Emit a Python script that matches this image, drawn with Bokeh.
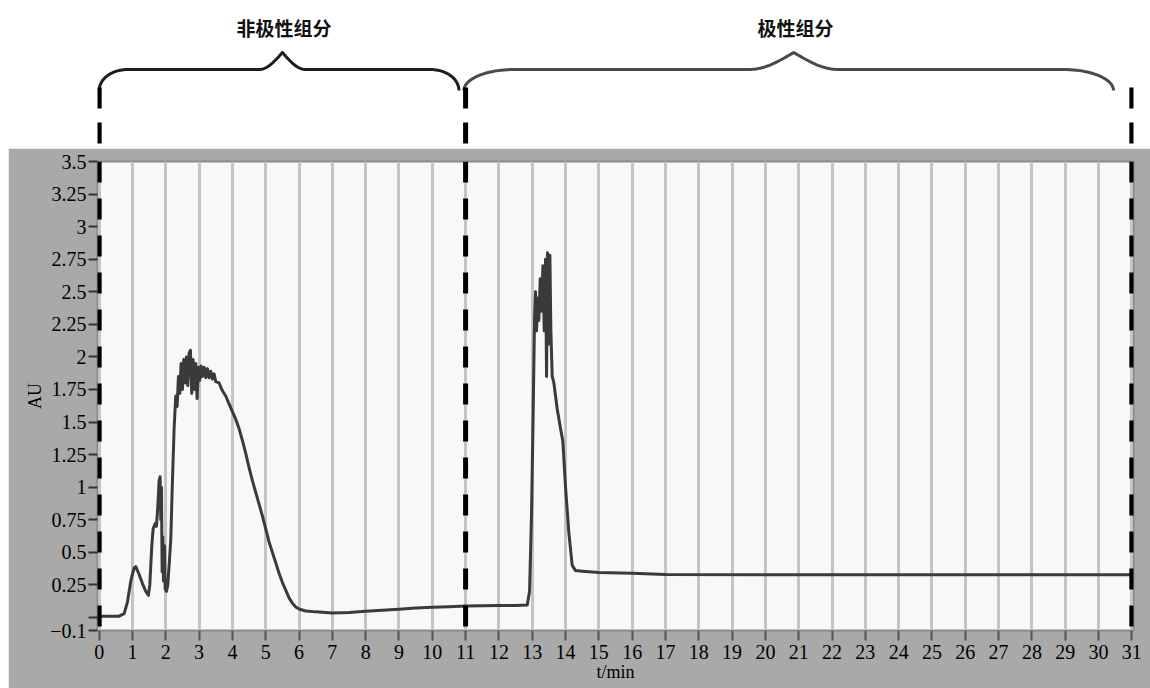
import math
from bokeh.plotting import figure
from bokeh.models import Range1d, FixedTicker, Span
from bokeh.layouts import column
from bokeh.embed import file_html
from bokeh.resources import INLINE
from bokeh.core.properties import value

# ---------------- data ----------------
time_min = [0, 0.3, 0.6, 0.75, 0.85, 0.95, 1.05, 1.1, 1.2, 1.3, 1.4, 1.48, 1.52, 1.58, 1.62,
            1.68, 1.72, 1.76, 1.8, 1.83, 1.85, 1.87, 1.89, 1.91, 1.93, 1.96, 1.98, 2.02, 2.06,
            2.1, 2.15, 2.2, 2.25, 2.3, 2.34, 2.38, 2.42, 2.46, 2.5, 2.54, 2.58, 2.62, 2.66,
            2.7, 2.74, 2.78, 2.82, 2.86, 2.9, 2.94, 2.98, 3.02, 3.06, 3.1, 3.15, 3.2, 3.25,
            3.3, 3.35, 3.4, 3.45, 3.5, 3.6, 3.7, 3.8, 3.9, 4.0, 4.1, 4.2, 4.3, 4.4, 4.5, 4.6,
            4.7, 4.8, 4.9, 5.0, 5.1, 5.2, 5.3, 5.4, 5.5, 5.6, 5.7, 5.8, 5.9, 6.0, 6.2, 6.5,
            7.0, 7.5, 8.0, 8.5, 9.0, 9.5, 10.0, 10.5, 11.0, 11.5, 12.0, 12.5, 12.85, 12.92,
            12.98, 13.03, 13.07, 13.1, 13.13, 13.16, 13.2, 13.24, 13.28, 13.32, 13.36, 13.4,
            13.43, 13.46, 13.5, 13.53, 13.56, 13.6, 13.65, 13.75, 13.85, 13.92, 14.0, 14.1,
            14.2, 14.3, 14.5, 15.0, 16.0, 17.0, 20.0, 25.0, 31.0]
absorbance = [0.01, 0.01, 0.01, 0.03, 0.12, 0.28, 0.38, 0.39, 0.33, 0.26, 0.20, 0.17, 0.25, 0.55, 0.68,
              0.72, 0.70, 0.85, 1.05, 1.08, 0.75, 1.00, 0.35, 0.62, 0.28, 0.55, 0.22, 0.20, 0.25,
              0.40, 0.60, 1.05, 1.45, 1.70, 1.62, 1.85, 1.72, 1.95, 1.75, 1.98, 1.80, 2.00, 1.78,
              2.03, 2.05, 1.72, 1.98, 1.75, 1.95, 1.68, 1.92, 1.82, 1.93, 1.85, 1.92, 1.84, 1.91,
              1.84, 1.89, 1.83, 1.87, 1.81, 1.80, 1.74, 1.70, 1.64, 1.58, 1.52, 1.45, 1.36, 1.26, 1.15, 1.05,
              0.96, 0.87, 0.78, 0.68, 0.58, 0.50, 0.42, 0.34, 0.27, 0.21, 0.15, 0.11, 0.08, 0.065, 0.05, 0.043,
              0.035, 0.038, 0.048, 0.055, 0.063, 0.072, 0.078, 0.083, 0.088, 0.090, 0.091, 0.092, 0.095, 0.20,
              0.80, 1.60, 2.30, 2.50, 2.20, 2.45, 2.28, 2.60, 2.35, 2.70, 2.20, 2.75,
              1.85, 2.80, 2.10, 2.78, 2.20, 1.85, 1.80, 1.60, 1.45, 1.35, 1.00, 0.65,
              0.40, 0.36, 0.355, 0.345, 0.34, 0.33, 0.328, 0.327, 0.327]

x_ticks = list(range(0, 32))
y_ticks = [-0.1, 0, 0.25, 0.5, 0.75, 1, 1.25, 1.5, 1.75, 2, 2.25, 2.5, 2.75, 3, 3.25, 3.5]
y_tick_labels = ["\u22120.1", "", "0.25", "0.5", "0.75", "1", "1.25", "1.5", "1.75", "2",
                 "2.25", "2.5", "2.75", "3", "3.25", "3.5"]

divider_times = [0, 11, 31]
group_names = ["非极性组分", "极性组分"]
group_starts = [0.0, 10.95]
group_ends = [10.8, 30.45]
group_centers = [5.5, 20.85]

# ---------------- layout constants ----------------
W = 1142
LEFT = 89
RIGHT = 17
SERIF = "Liberation Serif"

xr = Range1d(-0.05, 31.05)

# ---------------- top strip with braces ----------------
top = figure(width=W, height=148, x_range=xr, y_range=Range1d(148, 0),
             x_axis_type=None, y_axis_type=None,
             output_backend="svg", toolbar_location=None,
             min_border_left=LEFT, min_border_right=RIGHT,
             min_border_top=0, min_border_bottom=0, margin=(0, 0, 0, 8))
top.grid.visible = False
top.outline_line_color = None
top.background_fill_color = "white"
top.border_fill_color = "white"


def brace_path(x0, x1, xc, curl, half, y_end=90, y_line=69, y_peak=52, n=24):
    xs, ys = [], []
    for i in range(n + 1):
        th = math.pi / 2 * i / n
        xs.append(x0 + curl * (1 - math.cos(th)))
        ys.append(y_end + (y_line - y_end) * math.sin(th))
    for i in range(n + 1):
        u = i / n
        xs.append(xc - half + half * u)
        ys.append(y_line + (y_peak - y_line) * (1 - math.cos(math.pi / 2 * u)))
    for i in range(1, n + 1):
        u = i / n
        xs.append(xc + half * u)
        ys.append(y_peak + (y_line - y_peak) * math.sin(math.pi / 2 * u))
    for i in range(n + 1):
        th = math.pi / 2 * i / n
        xs.append(x1 - curl + curl * math.sin(th))
        ys.append(y_line + (y_end - y_line) * (1 - math.cos(th)))
    return xs, ys


brace_colors = ["#1e1e1e", "#4a4a4a"]
curls = [0.85, 1.5]
halves = [0.7, 1.35]
for s, e, c, col, cu, hf in zip(group_starts, group_ends, group_centers, brace_colors, curls, halves):
    bx, by = brace_path(s, e, c, cu, hf)
    top.line(bx, by, line_color=col, line_width=3, line_join="round")

top.segment(x0=divider_times, y0=[87] * 3, x1=divider_times, y1=[148] * 3,
            line_color="black", line_width=5, line_dash="21 14")

top.text(x=[c + 0.05 for c in group_centers], y=[27, 27], text=group_names,
         text_font=value("Noto Sans CJK SC"), text_font_size="19px",
         text_font_style="bold", text_align="center", text_baseline="middle",
         text_color="#111111")

# ---------------- main chromatogram ----------------
p = figure(width=W, height=540, x_range=xr, y_range=Range1d(-0.1, 3.5),
           output_backend="svg", toolbar_location=None,
           min_border_left=LEFT, min_border_right=RIGHT,
           min_border_top=13, min_border_bottom=58, margin=(0, 0, 0, 8))
p.border_fill_color = "#a9a9a9"
p.background_fill_color = "#f8f8f8"
p.outline_line_color = "#8a8a8a"
p.outline_line_width = 2

p.xgrid.grid_line_color = "#c4c4c4"
p.xgrid.grid_line_width = 3
p.ygrid.grid_line_color = None

p.xaxis.ticker = FixedTicker(ticks=x_ticks)
p.yaxis.ticker = FixedTicker(ticks=y_ticks)
p.yaxis.major_label_overrides = {float(t): l for t, l in zip(y_ticks, y_tick_labels)}

for ax in (p.xaxis[0], p.yaxis[0]):
    ax.major_label_text_font = SERIF
    ax.major_label_text_font_size = "20px"
    ax.major_label_text_color = "black"
    ax.axis_label_text_font = SERIF
    ax.axis_label_text_font_size = "18px"
    ax.axis_label_text_font_style = "normal"
    ax.axis_label_text_color = "black"
    ax.minor_tick_line_color = None
    ax.major_tick_in = 0

p.yaxis.axis_line_color = None
p.yaxis.major_tick_out = 9
p.yaxis.major_tick_line_color = "#333333"
p.yaxis.major_tick_line_width = 2
p.yaxis.major_label_standoff = 2
p.yaxis.axis_label = "AU"
p.yaxis.axis_label_standoff = 2

p.xaxis.axis_line_color = "#8a8a8a"
p.xaxis.major_tick_out = 10
p.xaxis.major_tick_line_color = "#555555"
p.xaxis.major_tick_line_width = 2
p.xaxis.major_label_standoff = 4
p.xaxis.axis_label = "t/min"
p.xaxis.axis_label_standoff = 0

p.line(time_min, absorbance, line_color="#3a3a3a", line_width=3, line_join="round")

for t in divider_times:
    p.add_layout(Span(location=t, dimension="height", line_color="black",
                      line_width=5, line_dash="21 16"))

layout = column(top, p, spacing=0)
open("out.html", "w").write(file_html(layout, INLINE))
